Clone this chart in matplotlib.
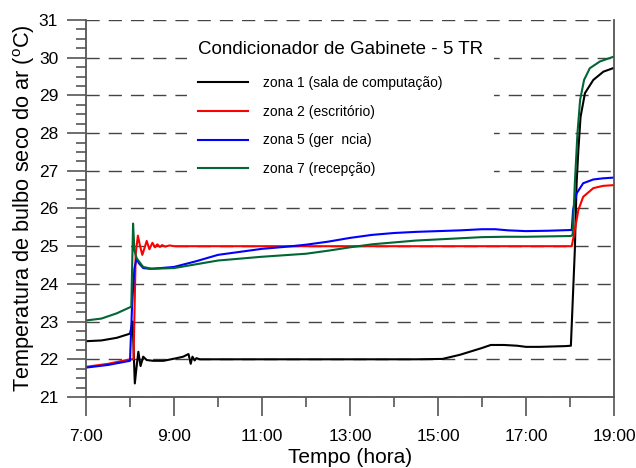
import matplotlib
matplotlib.use("Agg")
import matplotlib.pyplot as plt
from matplotlib.ticker import MultipleLocator

plt.rcParams['font.family'] = ['Liberation Sans', 'DejaVu Sans']
plt.rcParams['mathtext.fontset'] = 'custom'
plt.rcParams['mathtext.rm'] = 'Liberation Sans'

# zona 1 (sala de computação)
t_z1 = [7.0, 7.35, 7.7, 8.0, 8.06, 8.11, 8.15, 8.19, 8.24, 8.30, 8.38, 8.53, 8.76,
        9.06, 9.21, 9.33, 9.38, 9.42, 9.47, 9.51, 9.59, 10.5, 11.5, 12.5, 13.5, 14.5,
        15.1, 15.5, 16.0, 16.2, 16.5, 16.8, 17.0, 17.3, 17.6, 17.9, 18.02, 18.11,
        18.15, 18.19, 18.24, 18.34, 18.53, 18.76, 19.0]
z1 = [22.48, 22.50, 22.57, 22.68, 23.00, 21.36, 21.80, 22.20, 21.82, 22.07, 21.98,
      21.96, 21.96, 22.03, 22.07, 22.14, 21.88, 22.07, 21.97, 22.03, 22.00, 22.00,
      22.00, 22.00, 22.00, 22.00, 22.01, 22.12, 22.30, 22.38, 22.38, 22.36, 22.33,
      22.33, 22.34, 22.35, 22.36, 24.90, 26.67, 27.55, 28.43, 29.06, 29.41, 29.63,
      29.73]

# zona 2 (escritório)
t_z2 = [7.0, 7.5, 8.0, 8.08, 8.13, 8.18, 8.23, 8.28, 8.33, 8.38, 8.44, 8.51, 8.57,
        8.62, 8.68, 8.73, 8.80, 8.90, 9.0, 12.0, 15.0, 17.0, 18.04, 18.11, 18.19,
        18.30, 18.53, 18.75, 19.0]
z2 = [21.80, 21.88, 22.00, 22.00, 24.80, 25.28, 25.00, 24.77, 24.95, 25.14, 24.92,
      25.09, 24.97, 25.05, 24.98, 25.03, 24.99, 25.02, 25.00, 25.00, 25.00, 25.00,
      25.00, 25.43, 25.96, 26.31, 26.54, 26.60, 26.62]

# zona 5 (gerência)
t_z5 = [7.0, 7.5, 8.0, 8.05, 8.10, 8.15, 8.20, 8.30, 8.45, 8.70, 9.0, 9.5, 10.0,
        10.5, 11.0, 11.5, 12.0, 12.5, 13.0, 13.5, 14.0, 14.5, 15.0, 15.5, 16.0,
        16.3, 16.6, 17.0, 17.5, 18.04, 18.07, 18.15, 18.30, 18.53, 18.75, 19.0]
z5 = [21.78, 21.85, 21.96, 23.50, 24.40, 24.68, 24.55, 24.42, 24.40, 24.42, 24.45,
      24.60, 24.77, 24.85, 24.93, 24.98, 25.04, 25.12, 25.22, 25.30, 25.35, 25.38,
      25.40, 25.42, 25.45, 25.45, 25.42, 25.40, 25.41, 25.43, 25.96, 26.40, 26.67,
      26.77, 26.80, 26.82]

# zona 7 (recepção)
t_z7 = [7.0, 7.35, 7.7, 8.0, 8.03, 8.07, 8.10, 8.15, 8.30, 8.50, 9.0, 9.5, 10.0,
        10.5, 11.0, 11.5, 12.0, 12.5, 13.0, 13.5, 14.0, 14.5, 15.0, 15.5, 16.0,
        16.5, 17.0, 17.5, 18.02, 18.06, 18.11, 18.17, 18.23, 18.32, 18.45, 18.68,
        19.0]
z7 = [23.03, 23.08, 23.22, 23.38, 23.40, 25.60, 24.90, 24.68, 24.45, 24.40, 24.42,
      24.52, 24.62, 24.67, 24.72, 24.76, 24.80, 24.88, 24.97, 25.05, 25.10, 25.15,
      25.18, 25.21, 25.24, 25.25, 25.25, 25.26, 25.27, 25.30, 26.67, 28.00, 28.88,
      29.41, 29.72, 29.90, 30.03]

labels = ['zona 1 (sala de computação)', 'zona 2 (escritório)',
          'zona 5 (ger  ncia)', 'zona 7 (recepção)']
colors = ['black', '#ff0000', '#0000ff', '#006633']

x_ticks = [7, 9, 11, 13, 15, 17, 19]
x_tick_labels = ['7:00', '9:00', '11:00', '13:00', '15:00', '17:00', '19:00']

fig = plt.figure(figsize=(6.36, 4.68), dpi=100)
ax = fig.add_axes([0.1352, 0.1517, 0.8302, 0.8056])

for t, z, lab, c in zip([t_z1, t_z2, t_z5, t_z7], [z1, z2, z5, z7], labels, colors):
    ax.plot(t, z, color=c, lw=1.5, label=lab)

ax.set_xlim(7, 19)
ax.set_ylim(21, 31)
ax.set_xticks(x_ticks)
ax.set_xticklabels(x_tick_labels)
ax.xaxis.set_minor_locator(MultipleLocator(1))
ax.yaxis.set_major_locator(MultipleLocator(1))
ax.yaxis.set_minor_locator(MultipleLocator(0.25))

spine_col = '#555555'
ax.spines['top'].set_visible(False)
for s in ['left', 'right', 'bottom']:
    ax.spines[s].set_color(spine_col)
    ax.spines[s].set_linewidth(1.3)

ax.tick_params(which='major', direction='out', length=14, width=1.2,
               color=spine_col, labelsize=12.5, pad=6)
ax.tick_params(which='minor', direction='out', length=7, width=1.2, color=spine_col)
ax.tick_params(axis='x', which='major', pad=9)

ax.set_axisbelow(True)
ax.yaxis.grid(True, linestyle=(0, (9.5, 6.5)), color='#444444', linewidth=1.0)

ax.set_xlabel('Tempo (hora)', fontsize=15, labelpad=3)
ax.set_ylabel('Temperatura de bulbo seco do ar ($^{\\mathrm{o}}$C)', fontsize=15.7,
              labelpad=1)

leg = ax.legend(loc='upper left', bbox_to_anchor=(0.191, 0.975),
                title='Condicionador de Gabinete - 5 TR', title_fontsize=13.5,
                fontsize=10, frameon=True, facecolor='white', edgecolor='none',
                framealpha=1, fancybox=False, handlelength=3.6, handletextpad=1.1,
                labelspacing=1.05, borderpad=0.8, borderaxespad=0, alignment='left')
# a bit more room between the title and the entries
leg._legend_box.sep = 13.5
leg.get_frame().set_width(1)

fig.savefig('out.png', dpi=100)
